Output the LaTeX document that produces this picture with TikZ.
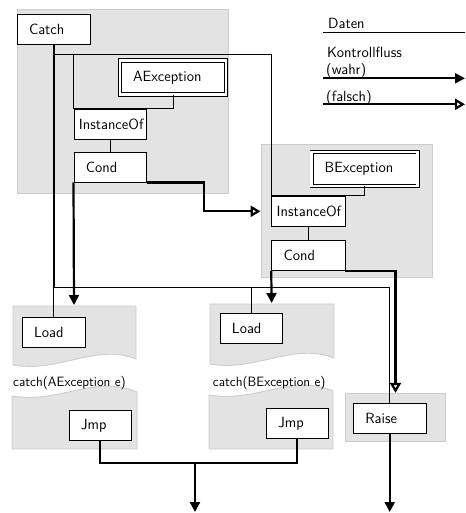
\documentclass[tikz,border=0pt]{standalone}
\usepackage{tikz}
\usetikzlibrary{arrows.meta, positioning}
\tikzset{
  op/.style  ={rectangle, draw, fill=white, line width=0.9pt, minimum height=30pt, inner xsep=12pt, align=left, text width=#1},
  exc/.style ={rectangle, draw, double, double distance=2.5pt, line width=0.9pt, fill=white, minimum height=34pt, inner xsep=13pt, align=left, text width=80pt},
  grp/.style ={rectangle, draw=black!20, fill=black!11, line width=0.9pt, inner sep=0pt},
  doc/.style ={draw=black!20, fill=black!11, line width=0.9pt},
  lbl/.style ={inner sep=0pt, anchor=base west},
  small/.style={font=\sffamily\fontsize{13.5}{16}\selectfont},
  data/.style={line width=0.9pt},
  ctl/.style ={line width=2.2pt, -{Triangle[length=10pt, width=10pt]}},
  ctlf/.style={line width=2.2pt, -{Triangle[length=10pt, width=11pt, fill=white]}},
}

\begin{document}
\begin{tikzpicture}[x=1pt, y=-1pt, every node/.style={font=\sffamily\fontsize{14.8}{17}\selectfont}]
  \useasboundingbox (0,0) rectangle (465,513);
  % grey blocks
  \node[grp, minimum width=211pt, minimum height=183.7pt] (grpA) at (122.5,101.2) {};
  \node[grp, minimum width=171pt, minimum height=132.7pt] (grpB) at (346.5,210.7) {};
  \node[grp, minimum width=100.4pt, minimum height=48.4pt] (grpR) at (395.5,417.5) {};
  \draw[doc] (13,306) -- (136,306) -- (136,359) .. controls (95,343) and (60,373) .. (13,365) -- cycle;
  \draw[doc] (12,396) .. controls (60,404) and (95,374) .. (137,392) -- (137,449) -- (12,449) -- cycle;
  \draw[doc] (210,304) -- (334,304) -- (334,358) .. controls (292,342) and (257,372) .. (210,364) -- cycle;
  \draw[doc] (209,395) .. controls (257,403) and (292,373) .. (333,391) -- (333,449) -- (209,449) -- cycle;

  % nodes
  \node[op=49pt] (catch) at (53.5,29.5) {Catch};
  \node[exc] (aexc) at (173.1,77.5) {AException};
  \node[op=62.7pt, inner xsep=5pt] (insA) at (110.3,124) {InstanceOf};
  \node[op=48.7pt] (condA) at (110.3,167) {Cond};
  \node[exc] (bexc) at (364.7,169) {BException};
  \node[op=63.3pt, inner xsep=5pt] (insB) at (308.3,211.3) {InstanceOf};
  \node[op=49.3pt] (condB) at (308.3,255.7) {Cond};
  \node[op=39pt] (ldA) at (53.5,332) {Load};
  \node[op=38.7pt] (ldB) at (251.3,328.7) {Load};
  \node[op=38.7pt] (jmpA) at (100.3,425.5) {Jmp};
  \node[op=38.3pt] (jmpB) at (297.2,423.7) {Jmp};
  \node[op=48.7pt] (raise) at (389.7,418.7) {Raise};
  \node[lbl, small] (catA) at (13,386.5) {catch(AException e)};
  \node[lbl, small] (catB) at (212.7,386.5) {catch(BException e)};

  % legend
  \node[lbl] (ldaten) at (328,29) {Daten};
  \node[lbl] (lkfl) at (327,57.3) {Kontrollfluss};
  \node[lbl] (lwahr) at (326,75) {(wahr)};
  \node[lbl] (lfalsch) at (326,101.5) {(falsch)};
  \coordinate (d1) at (323,32.3);   \coordinate (d2) at (465,32.3);
  \coordinate (w1) at (323,78.3);   \coordinate (w2) at (465,78.3);
  \coordinate (f1) at (323,104.3);  \coordinate (f2) at (465,104.3);
  \draw[data] (d1) -- (d2);
  \draw[ctl] (w1) -- (w2);
  \draw[ctlf] (f1) -- (f2);

  % data flow
  \coordinate (busT) at (0,54);
  \coordinate (busL) at (0,287);
  \draw[data] (catch.south) -- (ldA.north);
  \draw[data] ([xshift=1pt]catch.south) |- (busL -| ldB) -- (ldB.north);
  \draw[data] ([xshift=1pt]catch.south) |- (busL -| raise) -- (raise.north);
  \draw[data] (catch.south) |- (busT -| insA.west) -- (insA.north west);
  \draw[data] (catch.south) |- (busT -| insB.west) -- (insB.north west);
  \draw[data] (aexc.south) |- (insA.north west);
  \draw[data] (bexc.south) |- (insB.north west);
  \draw[data] (insA) -- (condA);
  \draw[data] (insB) -- (condB);

  % control flow
  \coordinate (inA) at (74,305);
  \coordinate (inB) at (271.7,303);
  \coordinate (merge) at (195,463);
  \coordinate (out1) at (195,512);
  \coordinate (out2) at (389.7,512);
  \draw[ctl] (condA.south west) -- (inA);
  \draw[ctlf] (condA.south east) -- ++(57,0) |- (grpB.west |- insB);
  \draw[ctl] (condB.south west) -- (inB);
  \draw[ctlf] (condB.south east) -| (grpR.north);
  \draw[line width=2.2pt] (jmpA.south) |- (merge) -| (jmpB.south);
  \draw[ctl] (merge) -- (out1);
  \draw[ctl] (raise.south) -- (out2);
\end{tikzpicture}
\end{document}
